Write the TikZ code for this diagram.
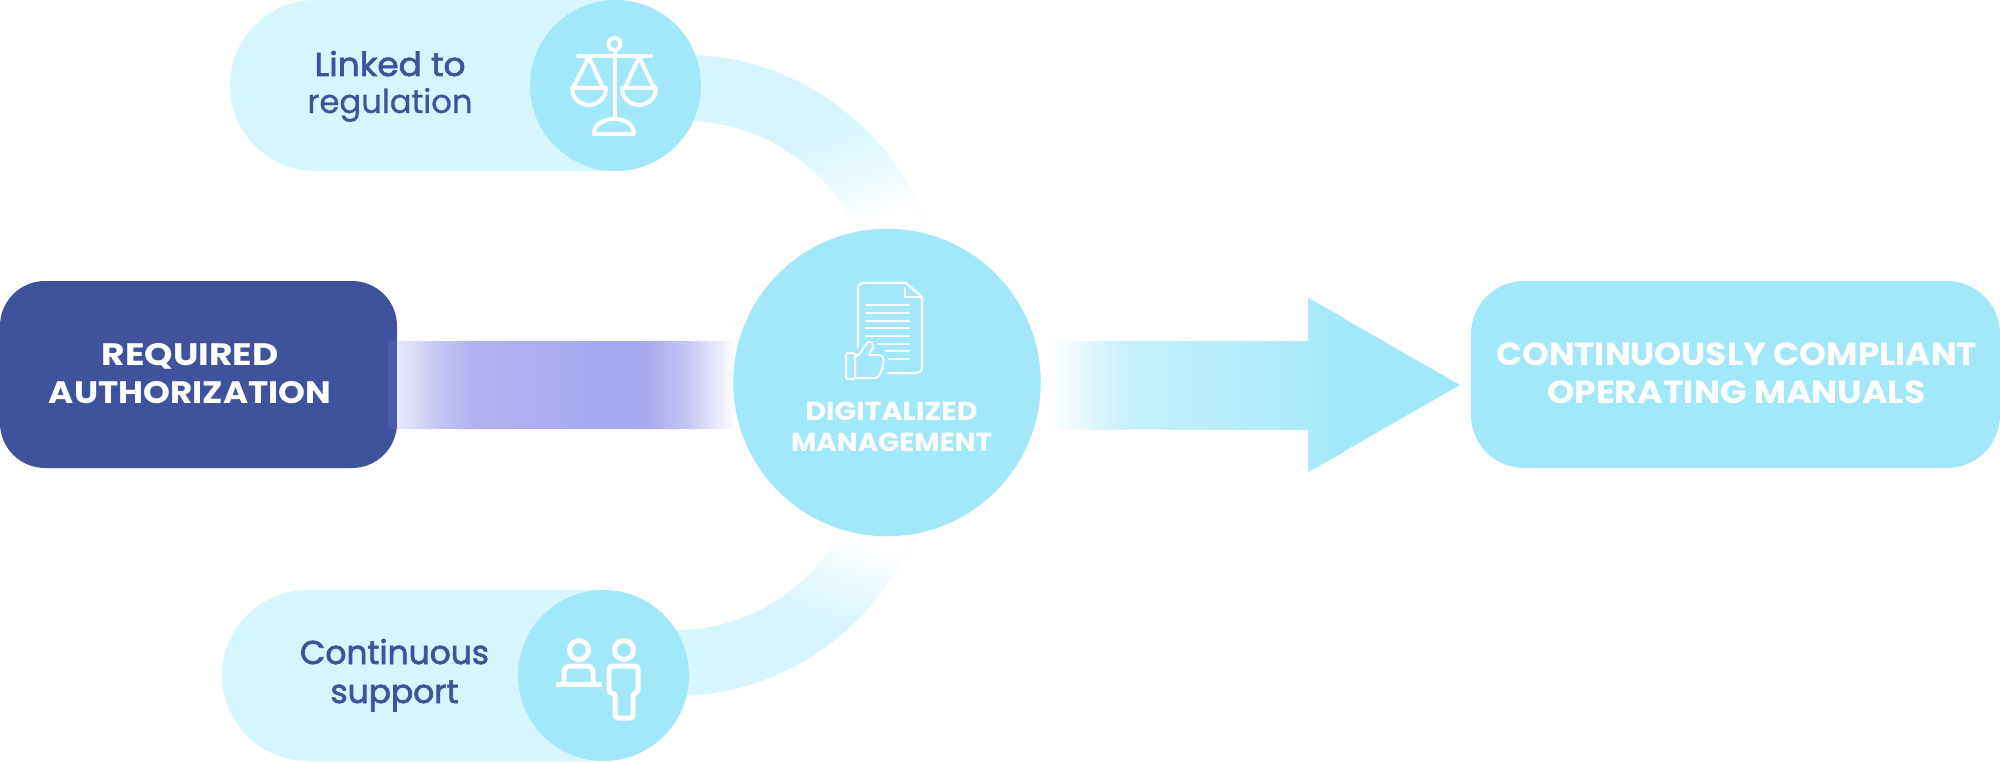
\documentclass[tikz,border=0pt]{standalone}
\usepackage{graphicx}
\usepackage{fontspec}
\setmainfont{Poppins}
\newfontfamily\semifont{Poppins}[FakeBold=2]
\newfontfamily\medfont{Poppins}[FakeBold=0.7]
\definecolor{lightc}{HTML}{D7F5FE}
\definecolor{midc}{HTML}{A3E7FB}
\definecolor{darkc}{HTML}{3F529C}
\definecolor{violetc}{HTML}{A8A8EE}
\definecolor{vioa}{HTML}{E8E8FA}
\definecolor{viod}{HTML}{DADAF7}
\definecolor{viob}{HTML}{C4C4F3}
\definecolor{vioc}{HTML}{B3B3F0}
\definecolor{arra}{HTML}{C3EFFD}
\definecolor{arrb}{HTML}{ABE9FB}
\definecolor{seamc}{HTML}{4A5BA4}
\newcommand{\twoln}[6]{\fontsize{#1}{#2}\selectfont\begin{tabular}[t]{@{}c@{}}\resizebox{#3pt}{\height}{#4}\\\resizebox{#5pt}{\height}{#6}\end{tabular}}
\newcommand{\fadeband}[5]{%
  \foreach \i in {1,...,40}{%
    \pgfmathsetmacro{\dd}{#5*\i/40}%
    \pgfmathsetmacro{\pct}{100-2.5*\i}%
    \pgfmathsetmacro{\ppx}{#1+#3*\dd}%
    \pgfmathsetmacro{\ppy}{#2+#4*\dd}%
    \fill[lightc!\pct!white] ({\ppx-#4*600},{\ppy+#3*600}) -- ({\ppx+#4*600},{\ppy-#3*600}) -- ({\ppx+#4*600+#3*400},{\ppy-#3*600+#4*400}) -- ({\ppx-#4*600+#3*400},{\ppy+#3*600+#4*400}) -- cycle;
  }}
% \gradseg{x0}{x1}{y0}{y1}{colour A}{colour B}: colour ramp, painted in overlapping steps
\newcommand{\gradseg}[6]{%
  \foreach \i in {0,...,24}{%
    \pgfmathsetmacro{\xa}{#1+(#2-#1)*\i/25}%
    \pgfmathsetmacro{\pct}{4*\i}%
    \fill[#6!\pct!#5] (\xa,#3) rectangle (#2,#4);
  }}
\tikzset{
  box/.style={inner sep=0pt,outer sep=0pt,minimum height=187pt},
  pill/.style={inner sep=0pt,outer sep=0pt,minimum height=171pt,rounded corners=85.5pt,fill=lightc},
  disc/.style={circle,inner sep=0pt,outer sep=0pt,fill=midc},
  label/.style={inner sep=0pt,outer sep=0pt,anchor=base},
  icon/.style={draw=white,line width=#1,line cap=round,line join=round},
  icon/.default=4pt
}
\begin{document}
\begin{tikzpicture}[x=1pt,y=-1pt]
\useasboundingbox (0,0) rectangle (2000,762);
\fill[white] (0,0) rectangle (2000,762);
% arcs
\begin{scope}
  \clip (640,0) rectangle (1000,382);
  \clip (685,310) circle[radius=255];
  \fill[lightc] (640,0) rectangle (1000,382);
  \fadeband{818}{140}{0.358}{0.934}{95}
  \fill[white] (685,310) circle[radius=189];
\end{scope}
\begin{scope}
  \clip (640,382) rectangle (1000,762);
  \clip (675,441) circle[radius=255];
  \fill[lightc] (640,382) rectangle (1000,762);
  \fadeband{813}{616}{0.342}{-0.94}{86}
  \fill[white] (675,441) circle[radius=189];
\end{scope}
% boxes
\node[box,fill=darkc,minimum width=397pt,rounded corners=45pt] (req) at (198.5,374.5) {};
\node[box,fill=midc,minimum width=529pt,rounded corners=53pt] (man) at (1735.5,374.5) {};
\node[pill,minimum width=471pt] (linkpill) at (465.5,85.5) {};
\node[pill,minimum width=467pt] (suppill) at (455.5,675.5) {};
% connectors
\fill[seamc] (388,341) rectangle (397,429);
\gradseg{397}{415}{341}{429}{vioa}{viod}
\gradseg{415}{440}{341}{429}{viod}{viob}
\gradseg{440}{470}{341}{429}{viob}{vioc}
\gradseg{470}{580}{341}{429}{vioc}{violetc}
\fill[violetc] (580,341) rectangle (645,429);
\gradseg{645}{685}{341}{429}{violetc}{viob}
\gradseg{685}{735}{341}{429}{viob}{white}
\begin{scope}
  \clip (1048,341) -- (1308,341) -- (1308,298) -- (1460,385) -- (1308,472) -- (1308,429) -- (1048,429) -- cycle;
  \fill[midc] (1340,290) rectangle (1470,480);
  \gradseg{1048}{1130}{290}{480}{white}{arra}
  \gradseg{1130}{1308}{290}{480}{arra}{arrb}
  \gradseg{1308}{1345}{290}{480}{arrb}{midc}
\end{scope}
\node[disc,minimum size=171pt] (linkdisc) at (615.5,85.5) {};
\node[disc,minimum size=171pt] (supdisc) at (603.5,675.5) {};
\node[disc,minimum size=307.5pt] (hub) at (887,382.5) {};
% labels
\node[label,text=white] (reqtext) at (190,365) {\twoln{31}{38}{177}{\bfseries REQUIRED}{282}{\bfseries AUTHORIZATION}};
\node[label,text=white] (mantext) at (1736.5,365) {\twoln{32}{38}{481}{\bfseries CONTINUOUSLY COMPLIANT}{379}{\bfseries OPERATING MANUALS}};
\node[label,text=white] (hubtext) at (891.5,420) {\twoln{26}{31}{172}{\bfseries DIGITALIZED}{201}{\bfseries MANAGEMENT}};
\node[label,text=darkc] (linktext) at (390,76) {\twoln{33}{37}{151}{\semifont Linked to}{165}{\medfont regulation}};
\node[label,text=darkc] (suptext) at (394.5,664) {\twoln{33}{39}{189}{\semifont Continuous}{128}{\semifont support}};
% scales icon
\draw[icon] (614.5,44) circle[radius=6];
\draw[icon] (578,56) -- (651,56);
\draw[icon] (614.5,50) -- (614.5,119);
\draw[icon,line cap=butt] (594,134) .. controls (594,124) and (604,119) .. (614.5,119) .. controls (625,119) and (634,124) .. (634,134) -- cycle;
\draw[icon] (589,57) -- (573,88) (589,57) -- (603,88);
\draw[icon] (639,57) -- (625,88) (639,57) -- (654,88);
\draw[icon] (572,88) -- (606,88) .. controls (606,98) and (598,105) .. (589,105) .. controls (580,105) and (572,98) .. (572,88);
\draw[icon] (622,88) -- (656,88) .. controls (656,98) and (648,105) .. (639,105) .. controls (630,105) and (622,98) .. (622,88);
% people icon
\draw[icon=5pt] (579,650) circle[radius=9.5];
\draw[icon=5pt] (624,650) circle[radius=9.5];
\draw[icon=5pt,rounded corners=6pt] (564,684) -- (564,666) -- (593,666) -- (593,684);
\draw[icon=5pt,line cap=butt] (556,684) -- (602,684);
\draw[icon=5pt,rounded corners=3pt] (615,693) -- (609,693) -- (609,666) -- (638,666) -- (638,693) -- (633,693) -- (633,718) -- (615,718) -- cycle;
% document icon
\draw[icon=2.2pt,rounded corners=5pt] (858,347) -- (858,283) -- (906,283);
\draw[icon=2.2pt] (906,283) -- (922,297);
\draw[icon=2.2pt] (905,288) -- (905,297) -- (922,297);
\draw[icon=2.2pt,rounded corners=5pt] (922,297) -- (922,373) -- (888,373);
\foreach \yy/\xx in {305/866,313/866,321/866,328/866,336/866,344/878,351/886,359/889}
  \draw[icon=2.2pt] (\xx,\yy) -- (909,\yy);
\draw[icon=2pt,rounded corners=1.5pt] (846,353) rectangle (855,379);
\draw[icon=2pt,rounded corners=2pt] (855,356) -- (858,356) -- (867,343) -- (870,341) -- (873.5,344) -- (872,350) -- (868,355) -- (881,355) -- (884,358) -- (883,364) -- (882,370) -- (880,373) -- (878,378) -- (856,378);
\end{tikzpicture}
\end{document}
